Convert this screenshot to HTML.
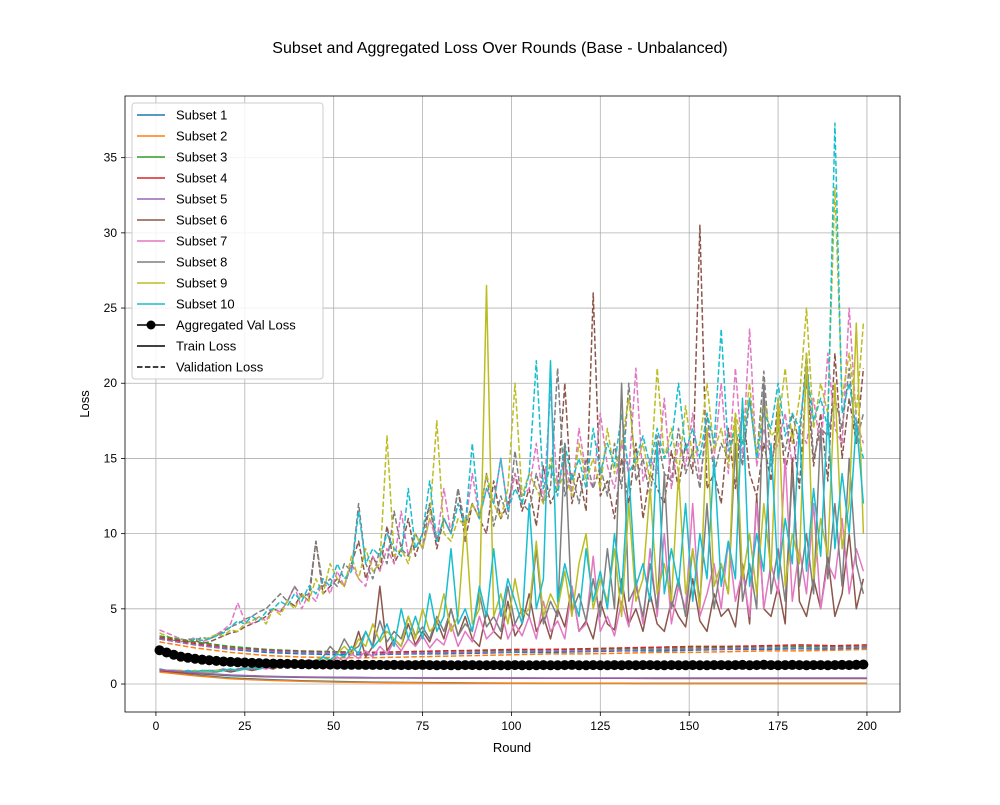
<!DOCTYPE html>
<html><head><meta charset="utf-8"><style>
body{margin:0;background:#fff;font-family:"Liberation Sans","DejaVu Sans",sans-serif}
svg text{font-family:"Liberation Sans","DejaVu Sans",sans-serif;fill:#000}
</style></head><body>
<svg id="c" width="1000" height="800" xmlns="http://www.w3.org/2000/svg"></svg>
<script>
const colors=['#1f77b4','#ff7f0e','#2ca02c','#d62728','#9467bd','#8c564b','#e377c2','#7f7f7f','#bcbd22','#17becf'];
const xTicks=[0,25,50,75,100,125,150,175,200];
const yTicks=[0,5,10,15,20,25,30,35];
// smooth series: sampled every 10 rounds
const train1=[0.85,0.6,0.4,0.3,0.22,0.17,0.13,0.1,0.08,0.07,0.06,0.05,0.05,0.05,0.04,0.04,0.04,0.04,0.04,0.04,0.04];
const train2=[0.8,0.55,0.35,0.25,0.18,0.13,0.1,0.08,0.06,0.05,0.05,0.04,0.04,0.04,0.03,0.03,0.03,0.03,0.03,0.03,0.03];
const train3=[0.9,0.7,0.55,0.48,0.44,0.42,0.4,0.4,0.39,0.39,0.38,0.38,0.38,0.38,0.37,0.37,0.37,0.37,0.37,0.37,0.37];
const train4=[0.9,0.72,0.58,0.5,0.46,0.44,0.42,0.41,0.4,0.4,0.4,0.39,0.39,0.39,0.39,0.39,0.39,0.39,0.39,0.39,0.39];
const train5=[0.95,0.75,0.6,0.52,0.47,0.45,0.43,0.42,0.41,0.41,0.4,0.4,0.4,0.4,0.4,0.4,0.4,0.4,0.4,0.4,0.4];
const val1=[3.0,2.6,2.3,2.1,2.0,1.95,1.95,2.0,2.0,2.05,2.1,2.1,2.15,2.2,2.2,2.25,2.3,2.3,2.35,2.3,2.4];
const val2=[2.8,2.4,2.1,1.9,1.8,1.75,1.75,1.8,1.85,1.9,1.95,2.0,2.0,2.05,2.1,2.1,2.15,2.2,2.2,2.25,2.3];
const val3=[3.2,2.8,2.5,2.3,2.2,2.15,2.1,2.15,2.2,2.2,2.25,2.3,2.3,2.35,2.4,2.4,2.45,2.5,2.5,2.5,2.5];
const val4=[3.1,2.7,2.4,2.25,2.15,2.1,2.1,2.15,2.2,2.25,2.3,2.3,2.35,2.4,2.45,2.5,2.5,2.55,2.6,2.55,2.6];
const val5=[3.0,2.6,2.35,2.2,2.1,2.05,2.0,2.05,2.1,2.1,2.15,2.2,2.2,2.25,2.3,2.3,2.35,2.4,2.4,2.4,2.45];
// noisy series: sampled every 2 rounds starting at round 1
const train6=[1.0,0.9,0.9,0.8,0.9,0.8,0.9,0.8,0.8,0.9,0.8,0.9,1.0,0.9,1.0,1.1,1.0,1.2,1.1,1.3,1.2,1.5,1.3,1.6,1.4,1.8,1.5,2.0,3.5,1.8,2.5,6.5,2.2,3.0,2.5,4.0,2.6,3.5,2.8,4.2,3.0,5.0,3.2,4.5,3.0,2.5,4.8,3.5,3.0,5.5,3.2,4.0,6.0,3.5,4.5,3.0,5.0,3.8,6.5,3.5,4.2,3.0,5.5,4.0,3.6,7.0,4.0,5.0,3.5,6.0,4.0,3.5,5.5,4.5,3.8,7.0,4.2,3.5,6.0,4.5,5.0,3.8,8.0,4.0,12.5,5.0,4.5,6.5,4.0,15.0,5.5,4.5,7.0,5.0,8.5,4.5,6.0,10.0,5.0,7.0];
const train7=[1.0,0.9,0.9,0.8,0.8,0.9,0.8,0.8,0.9,0.9,1.0,0.9,1.0,1.0,1.1,1.0,1.2,1.1,1.2,1.3,1.2,1.4,1.5,1.3,1.6,1.8,1.5,2.0,1.7,2.2,1.8,2.5,2.0,2.8,2.2,3.0,2.5,3.2,2.4,3.0,2.6,4.0,2.5,3.5,2.8,4.5,3.0,3.5,5.0,3.0,4.0,3.2,4.5,3.0,5.5,3.5,4.2,3.0,6.5,3.5,4.0,8.5,3.5,4.5,3.2,5.5,3.8,7.0,4.0,9.0,4.5,10.0,4.0,6.5,5.0,12.0,4.5,6.0,8.0,5.0,9.5,5.5,7.5,4.5,12.0,5.0,8.0,6.0,15.0,5.5,9.0,6.0,12.0,5.0,8.0,7.0,11.0,6.0,9.0,7.5];
const train8=[1.0,0.9,0.9,0.9,0.8,0.9,0.8,0.9,0.9,1.0,0.9,1.0,1.1,1.0,1.2,1.1,1.3,1.2,1.4,1.3,1.5,1.6,1.5,1.8,2.5,2.0,3.0,2.2,2.5,3.5,2.5,4.2,2.8,3.5,3.0,4.5,3.2,3.8,3.0,4.5,3.5,5.0,3.2,4.0,3.5,6.0,3.8,4.5,3.5,6.5,4.0,5.0,4.5,9.0,4.0,5.5,4.5,16.0,4.8,6.0,4.2,7.0,4.5,9.0,5.0,20.0,5.5,6.5,4.5,8.0,5.0,14.0,5.0,7.0,4.5,9.0,5.5,12.0,5.0,8.0,6.0,16.0,5.5,8.0,5.0,20.0,6.0,9.0,5.5,14.0,6.5,10.0,6.0,17.0,7.0,12.0,6.5,15.0,8.0,6.0];
const train9=[1.0,0.9,0.9,0.9,0.8,0.9,0.8,0.8,0.9,0.9,1.0,0.9,1.0,1.1,1.0,1.2,1.1,1.3,1.2,1.4,1.5,1.3,1.6,1.8,1.5,2.0,2.5,2.0,3.0,2.5,4.0,2.8,3.5,3.0,2.5,4.5,3.0,5.0,3.5,4.0,6.0,3.5,4.5,11.0,4.0,5.0,26.5,4.5,6.0,4.0,7.0,4.5,5.0,9.5,4.5,6.0,5.0,7.5,4.5,8.0,10.0,5.0,7.0,5.5,9.0,4.5,12.0,5.5,7.0,13.0,6.0,8.0,5.5,14.0,6.0,9.0,5.0,17.0,6.5,8.0,6.0,18.0,7.0,10.0,6.0,12.0,7.5,19.0,6.5,10.0,8.0,22.0,7.0,11.0,8.5,20.0,9.0,12.0,24.0,10.0];
const train10=[1.0,0.9,0.9,0.8,0.9,0.8,0.9,0.9,0.8,0.9,1.0,0.9,1.0,1.1,1.0,1.2,1.1,1.2,1.3,1.4,1.3,1.6,1.4,1.8,1.6,2.0,1.8,2.5,2.0,3.5,2.4,3.0,4.0,2.5,5.0,3.0,4.5,3.0,6.0,3.5,4.5,9.0,4.0,5.0,3.5,6.5,4.5,9.0,4.5,7.0,5.5,4.0,12.0,5.0,7.0,21.5,5.5,8.0,6.0,4.5,9.0,5.5,7.5,5.0,10.0,6.0,14.0,6.5,8.0,5.5,16.0,6.0,9.0,6.5,12.0,5.5,10.0,7.0,15.0,6.5,9.5,7.0,19.0,6.5,10.0,7.5,16.0,7.0,11.0,8.0,17.0,7.5,13.0,8.5,18.0,9.0,14.0,10.0,17.5,12.0];
const val6=[3.0,3.2,2.9,3.0,2.8,2.9,2.7,2.8,3.0,3.2,3.4,3.5,3.8,4.0,4.2,4.5,5.0,4.8,5.5,5.2,6.0,5.5,9.5,6.0,6.5,7.0,6.5,8.0,9.5,7.0,8.5,7.5,10.5,8.0,9.0,11.0,8.5,10.0,12.0,9.0,11.0,10.0,13.0,9.5,12.0,11.0,10.0,13.5,11.0,12.0,14.0,11.5,13.0,10.5,14.5,12.0,13.0,20.0,12.0,14.0,11.5,26.0,12.5,13.5,11.0,15.0,12.0,16.0,11.0,14.0,13.0,12.0,15.5,13.0,16.0,14.0,30.5,13.0,14.0,12.0,17.0,13.0,18.5,14.0,12.5,16.0,13.5,19.0,14.0,17.0,13.0,20.5,14.5,18.0,13.5,22.0,15.0,19.0,16.0,21.0];
const val7=[3.6,3.4,3.2,3.0,2.9,3.1,2.8,3.0,3.3,3.6,4.0,5.4,4.2,4.0,4.5,4.2,5.0,4.8,5.5,6.5,5.0,6.0,5.5,7.0,6.0,7.5,6.5,8.0,7.0,6.5,8.5,7.5,9.0,8.0,11.5,8.5,10.0,9.0,11.0,9.5,13.0,10.0,12.0,10.5,14.0,11.0,13.0,12.0,15.0,11.5,14.0,12.5,13.0,16.0,12.0,19.5,13.0,15.0,12.5,17.0,14.0,13.0,18.0,14.5,13.0,16.0,14.0,21.0,13.5,15.0,14.0,19.0,13.0,16.0,14.5,18.0,13.5,17.0,15.0,20.0,14.0,21.0,15.0,23.6,14.5,17.0,15.0,16.0,18.0,14.5,17.0,16.0,19.0,15.5,22.0,17.0,16.0,25.0,17.5,16.0];
const val8=[3.0,2.9,3.1,2.8,3.0,2.9,3.1,3.0,3.2,3.5,3.8,4.0,4.3,4.5,4.8,5.0,5.5,6.0,5.5,6.5,5.8,6.0,9.5,6.5,7.0,6.5,8.0,7.5,12.0,8.0,7.0,9.0,8.0,11.5,9.0,8.5,10.0,9.0,12.0,9.5,11.0,10.0,13.0,10.5,12.0,11.0,14.0,10.5,12.5,11.0,15.5,12.0,11.5,14.0,12.0,13.0,21.0,12.5,14.0,12.0,15.0,13.0,14.5,12.5,16.0,13.0,20.0,13.5,15.0,12.5,16.5,14.0,13.5,17.0,14.0,15.5,13.0,18.0,14.0,16.0,15.0,17.0,14.5,19.0,15.0,20.8,14.5,17.0,15.5,18.0,16.0,22.0,15.0,17.0,16.5,19.0,17.0,21.0,16.0,18.0];
const val9=[3.4,3.2,3.0,2.9,2.8,3.0,2.9,3.1,3.3,3.2,3.6,3.5,4.0,4.2,4.5,4.0,5.0,4.6,5.5,5.0,6.0,5.5,7.0,6.0,8.0,7.0,6.5,8.5,7.0,9.0,7.5,8.0,16.5,8.5,9.0,8.0,10.0,9.0,11.0,17.5,10.0,9.5,11.0,10.5,12.0,11.0,14.0,12.0,11.0,13.0,20.0,12.5,14.0,13.0,12.0,15.0,13.0,14.0,12.5,16.0,13.5,15.0,13.0,17.0,14.0,16.0,19.0,14.5,16.0,13.5,21.0,15.0,17.0,14.0,18.5,15.0,16.0,20.0,15.5,17.0,14.5,18.0,16.0,20.0,15.0,19.0,16.5,17.0,21.0,16.0,19.0,25.0,17.0,20.0,18.0,33.0,19.0,22.0,18.0,24.0];
const val10=[3.0,3.1,3.0,2.9,2.8,3.0,2.9,3.0,3.2,3.4,3.8,4.2,4.0,4.5,4.2,4.8,5.0,5.5,5.2,6.0,5.5,6.5,6.0,7.0,6.5,8.0,7.0,7.5,11.5,8.0,9.0,8.5,10.0,9.0,8.5,13.0,9.0,10.0,13.5,9.5,11.0,10.0,12.0,10.5,16.0,11.0,13.0,12.0,15.0,11.5,13.0,12.0,14.0,21.5,13.0,14.5,12.5,16.0,13.5,15.0,13.0,17.0,14.0,16.0,14.5,18.0,14.0,15.0,16.5,14.5,17.0,15.0,16.0,20.0,15.5,17.0,15.0,18.0,16.0,23.6,15.5,17.0,16.0,19.0,15.0,18.0,17.0,20.0,16.5,18.0,17.0,21.0,17.5,19.0,17.0,37.3,18.0,20.0,17.0,15.0];
// aggregated val loss every 2 rounds starting at round 1
const agg=[2.25,2.1,1.95,1.82,1.75,1.68,1.62,1.58,1.54,1.5,1.47,1.45,1.43,1.41,1.39,1.37,1.36,1.35,1.34,1.33,1.32,1.31,1.3,1.3,1.29,1.29,1.28,1.28,1.28,1.27,1.27,1.27,1.26,1.27,1.26,1.26,1.26,1.27,1.26,1.25,1.26,1.25,1.25,1.26,1.26,1.25,1.25,1.26,1.25,1.25,1.26,1.25,1.25,1.25,1.26,1.25,1.25,1.26,1.27,1.25,1.25,1.26,1.25,1.25,1.26,1.25,1.26,1.25,1.26,1.26,1.25,1.25,1.26,1.25,1.25,1.26,1.25,1.25,1.26,1.26,1.25,1.26,1.27,1.25,1.26,1.28,1.26,1.25,1.26,1.27,1.26,1.25,1.26,1.26,1.25,1.26,1.27,1.26,1.28,1.3];

const L=125,R=900,T=96,B=712, XMIN=-8.7,XMAX=209.3,YMIN=-1.86,YMAX=39.1;
const sx=v=>L+(v-XMIN)/(XMAX-XMIN)*(R-L);
const sy=v=>B-(v-YMIN)/(YMAX-YMIN)*(B-T);
const svg=document.getElementById('c'),NS='http://www.w3.org/2000/svg';
function mk(tag,attrs,parent){const e=document.createElementNS(NS,tag);for(const k in attrs)e.setAttribute(k,attrs[k]);(parent||svg).appendChild(e);return e;}
xTicks.forEach(t=>{const g=mk('line',{x1:sx(t),x2:sx(t),y1:T,y2:B,stroke:'#b0b0b0','stroke-width':0.8});


mk('line',{x1:sx(t),x2:sx(t),y1:B,y2:B+4,stroke:'#000','stroke-width':0.8});
const tx=mk('text',{x:sx(t),y:B+18,'text-anchor':'middle','font-size':12});tx.textContent=t;

});
yTicks.forEach(t=>{const g=mk('line',{x1:L,x2:R,y1:sy(t),y2:sy(t),stroke:'#b0b0b0','stroke-width':0.8});


mk('line',{x1:L-4,x2:L,y1:sy(t),y2:sy(t),stroke:'#000','stroke-width':0.8});
const tx=mk('text',{x:L-8,y:sy(t)+4,'text-anchor':'end','font-size':12});tx.textContent=t;

});
function line(vals,xf,color,dash,name){
 const d=vals.map((v,i)=>(i?'L':'M')+sx(xf(i)).toFixed(1)+','+sy(v).toFixed(1)).join('');
 const p=mk('path',{d:d,fill:'none',stroke:color,'stroke-width':1.5,'stroke-linejoin':'round'});
 if(dash)p.setAttribute('stroke-dasharray','5.5,2.4');
 
 
}
const smoothX=i=>Math.min(1+i*10,200), noisyX=i=>1+i*2;
const trainsS=[train1,train2,train3,train4,train5], valsS=[val1,val2,val3,val4,val5];
const trainsN=[train6,train7,train8,train9,train10], valsN=[val6,val7,val8,val9,val10];
valsN.forEach((v,i)=>line(v,noisyX,colors[i+5],true,'subset-'+(i+6)+'-val-line'));
valsS.forEach((v,i)=>line(v,smoothX,colors[i],true,'subset-'+(i+1)+'-val-line'));
trainsN.forEach((v,i)=>line(v,noisyX,colors[i+5],false,'subset-'+(i+6)+'-train-line'));
trainsS.forEach((v,i)=>line(v,smoothX,colors[i],false,'subset-'+(i+1)+'-train-line'));
line(agg,i=>1+i*2,'#000',false,'aggregated-val-line');
agg.forEach((v,i)=>{const c=mk('circle',{cx:sx(1+i*2),cy:sy(v),r:5,fill:'#000'});

});
mk('rect',{x:L,y:T,width:R-L,height:B-T,fill:'none',stroke:'#000','stroke-width':0.8});
let t=mk('text',{x:500,y:53,'text-anchor':'middle','font-size':16,});t.textContent='Subset and Aggregated Loss Over Rounds (Base - Unbalanced)';
t=mk('text',{x:512,y:752,'text-anchor':'middle','font-size':13,});t.textContent='Round';
t=mk('text',{x:89,y:404,'text-anchor':'middle','font-size':13,transform:'rotate(-90 89 404)',});t.textContent='Loss';
const lg=mk('g',{});
mk('rect',{x:132,y:103,width:191,height:276,rx:3,fill:'#fff','fill-opacity':0.85,stroke:'#ccc'},lg);
const entries=[];for(let i=0;i<10;i++)entries.push(['Subset '+(i+1),colors[i],false,false]);
entries.push(['Aggregated Val Loss','#000',false,true],['Train Loss','#000',false,false],['Validation Loss','#000',true,false]);
entries.forEach((e,i)=>{const y=115+i*21;
 const g=mk('g',{},lg);
 
 
 const l=mk('line',{x1:137,x2:165,y1:y,y2:y,stroke:e[1],'stroke-width':1.5},g);
 if(e[2])l.setAttribute('stroke-dasharray','5.5,2.4');
 if(e[3])mk('circle',{cx:151,cy:y,r:4.5,fill:'#000'},g);
 const tx=mk('text',{x:176,y:y+4.5,'font-size':13},g);tx.textContent=e[0];});
</script>
</body></html>
